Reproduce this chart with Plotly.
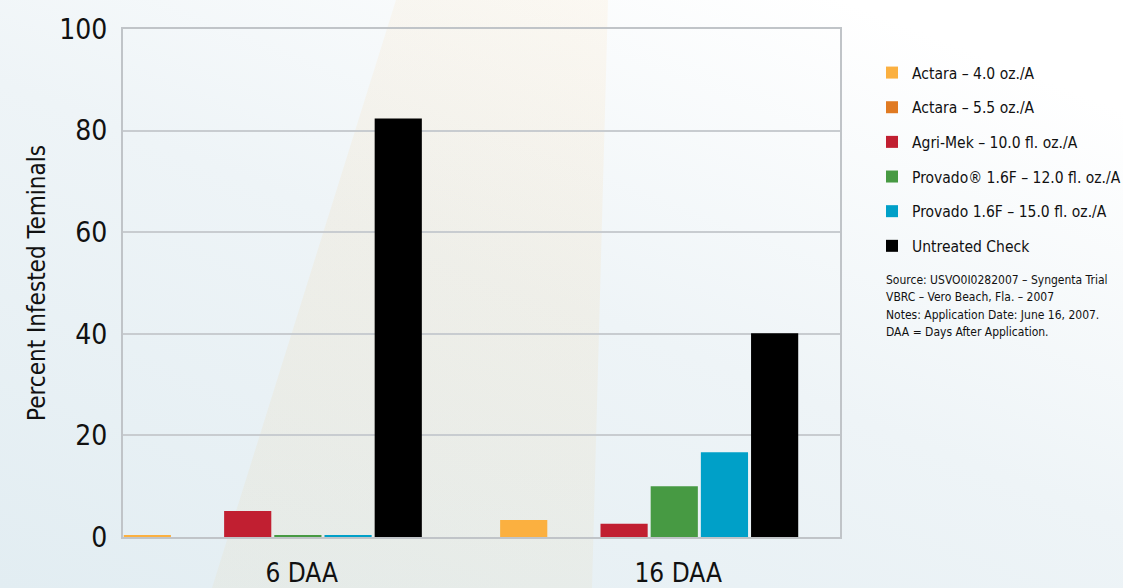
import base64
import plotly.graph_objects as go

# ---- data ----
categories = ["6 DAA", "16 DAA"]
series_names = [
    "Actara – 4.0 oz./A",
    "Actara – 5.5 oz./A",
    "Agri-Mek – 10.0 fl. oz./A",
    "Provado® 1.6F – 12.0 fl. oz./A",
    "Provado 1.6F – 15.0 fl. oz./A",
    "Untreated Check",
]
actara_40 = [0.2, 3.35]
actara_55 = [0.0, 0.0]
agri_mek = [5.1, 2.6]
provado_12 = [0.2, 10.0]
provado_15 = [0.2, 16.7]
untreated = [82.4, 40.1]
y_ticks = [0, 20, 40, 60, 80, 100]
notes = [
    "Source: USVO0I0282007 – Syngenta Trial",
    "VBRC – Vero Beach, Fla. – 2007",
    "Notes: Application Date: June 16, 2007.",
    "DAA = Days After Application.",
]

series_values = [actara_40, actara_55, agri_mek, provado_12, provado_15, untreated]
colors = ["#fbb040", "#e07a22", "#c11f31", "#479a43", "#00a0c8", "#000000"]

FONT = "DejaVu Sans Condensed, Liberation Sans Narrow, Roboto, sans-serif"

fig = go.Figure()
for i, (name, vals, col) in enumerate(zip(series_names, series_values, colors)):
    fig.add_trace(go.Bar(
        x=categories, y=vals, name=name,
        marker=dict(color=col, line=dict(width=0)),
        legendgroup=f"g{i}",
    ))

# background gradient image
svg = """<svg xmlns='http://www.w3.org/2000/svg' width='1123' height='588' viewBox='0 0 1123 588' preserveAspectRatio='none'>
<defs>
<linearGradient id='g' x1='0' y1='1' x2='0.75' y2='0'>
<stop offset='0' stop-color='#e2edf2'/>
<stop offset='0.55' stop-color='#eef4f7'/>
<stop offset='1' stop-color='#ffffff'/>
</linearGradient>
<linearGradient id='o' x1='0' y1='0' x2='0' y2='1'>
<stop offset='0' stop-color='#ffb040' stop-opacity='0.06'/>
<stop offset='1' stop-color='#e8d8b0' stop-opacity='0.16'/>
</linearGradient>
</defs>
<rect width='1123' height='588' fill='url(#g)'/>
<polygon points='396,0 608,0 592,588 212,588' fill='url(#o)'/>
</svg>"""
src = "data:image/svg+xml;base64," + base64.b64encode(svg.encode()).decode()

W, H = 1123, 588
L, R, T, B = 123, 283, 29, 51
pw, ph = W - L - R, H - T - B

note_annotations = [
    dict(
        text=line, xref="paper", yref="paper",
        x=(884 - L) / pw, y=1 - (280 + 17.4 * k - T) / ph,
        xanchor="left", yanchor="middle", align="left",
        showarrow=False,
        font=dict(family=FONT, size=12, color="#111111"),
    )
    for k, line in enumerate(notes)
]

fig.update_layout(
    width=W, height=H,
    margin=dict(l=L, r=R, t=T, b=B, pad=0, autoexpand=False),
    paper_bgcolor="#eef4f7",
    plot_bgcolor="#ffffff",
    barmode="group",
    bargap=0.2,
    bargroupgap=0.06,
    font=dict(family=FONT, color="#000000"),
    showlegend=True,
    legend=dict(
        x=(872 - L) / pw, y=1 - (56 - T) / ph, xanchor="left", yanchor="top",
        xref="paper", yref="paper",
        font=dict(family=FONT, size=15.5, color="#111111"),
        bgcolor="rgba(0,0,0,0)",
        traceorder="grouped",
        tracegroupgap=11.5,
    ),
    images=[dict(
        source=src, xref="paper", yref="paper",
        x=-L / pw, y=1 + T / ph, sizex=W / pw, sizey=H / ph,
        xanchor="left", yanchor="top", sizing="stretch", layer="below",
    )],
    annotations=note_annotations,
)

fig.update_xaxes(
    type="category",
    range=[-0.398, 1.507],
    showgrid=False,
    showline=True, linecolor="#c0c4c8", linewidth=2, mirror=True,
    ticks="",
    tickfont=dict(family=FONT, size=26, color="#111111"),
    ticklabelstandoff=12,
    ticklabelshift=29,
    zeroline=False,
    automargin=False,
)
fig.update_yaxes(
    range=[0, 100],
    tickvals=y_ticks,
    ticktext=[str(v) for v in y_ticks],
    showgrid=True, gridcolor="#c8ccd0", gridwidth=2,
    showline=True, linecolor="#c0c4c8", linewidth=2, mirror=True,
    ticks="",
    ticklabelstandoff=8,
    tickfont=dict(family=FONT, size=28, color="#111111"),
    title=dict(text="Percent Infested Teminals",
               font=dict(family=FONT, size=24, color="#111111"), standoff=7),
    zeroline=False,
    automargin=False,
)

fig.write_html(
    "out.html",
    config={"displayModeBar": False},
    post_script="document.body.style.margin='0';document.body.style.overflow='hidden';",
)
